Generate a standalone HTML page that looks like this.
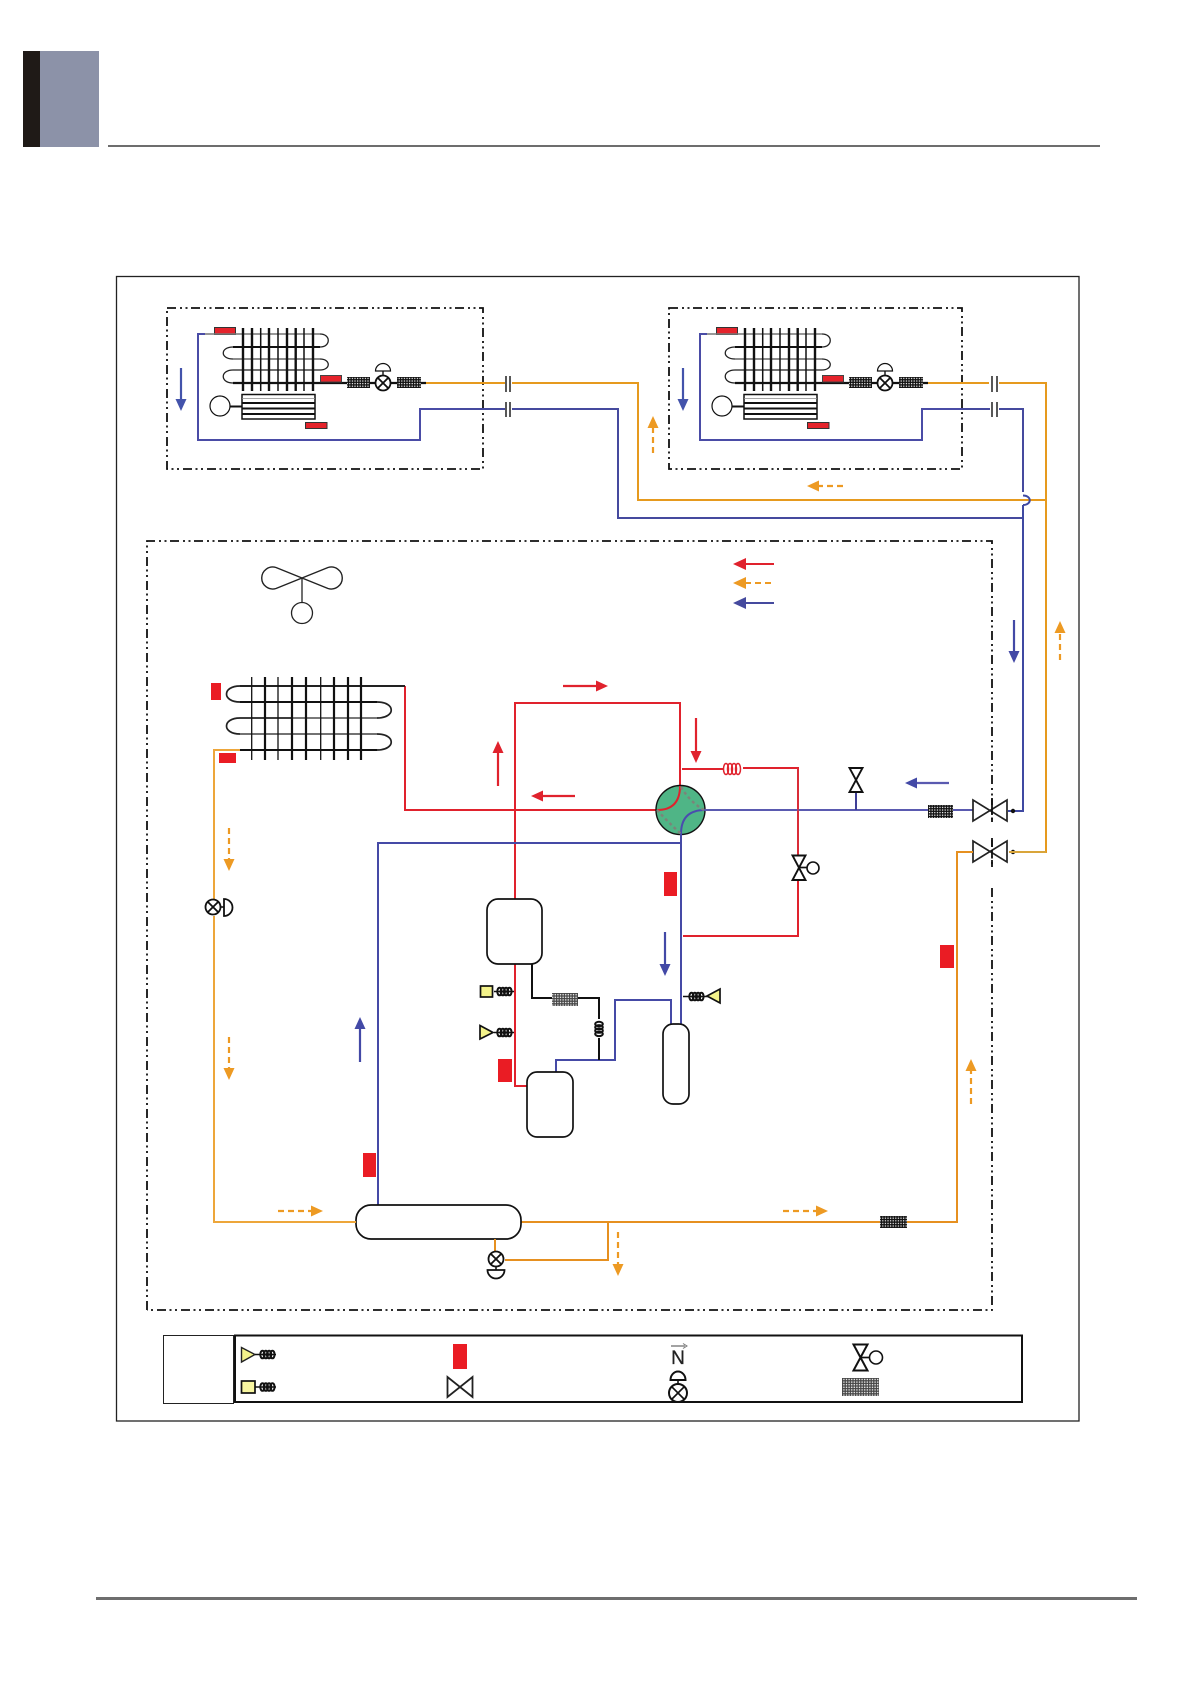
<!DOCTYPE html>
<html><head><meta charset="utf-8"><title>Diagram</title>
<style>html,body{margin:0;padding:0;background:#fff}svg{display:block}</style></head>
<body>
<svg xmlns="http://www.w3.org/2000/svg" width="1190" height="1684" viewBox="0 0 1190 1684">
<defs>
<pattern id="fp" width="2.6" height="2.6" patternUnits="userSpaceOnUse"><rect width="2.6" height="2.6" fill="#111"/><rect x=".8" y=".8" width="1.2" height="1.2" fill="#fff"/></pattern>
<pattern id="fg" width="2.6" height="2.6" patternUnits="userSpaceOnUse"><rect width="2.6" height="2.6" fill="#444"/><rect x=".8" y=".8" width="1.4" height="1.4" fill="#e4e4e4"/></pattern>
<g id="coil" fill="none" stroke="#111" stroke-width="2"><ellipse cx="2.5" cy="0" rx="2.2" ry="3.8"/><ellipse cx="5.800" cy="0" rx="2.2" ry="3.8"/><ellipse cx="9.100" cy="0" rx="2.2" ry="3.8"/><ellipse cx="12.400" cy="0" rx="2.2" ry="3.8"/></g>
<g id="cvalve" fill="none" stroke="#111" stroke-width="1.800"><circle cx="0" cy="0" r="7.500" fill="#fff"/><path d="M-5.300-5.300 5.300 5.300M5.300-5.300-5.300 5.300"/></g>
<g id="unit">
  <path d="M205 334H198V440H420V409H460" fill="none" stroke="#4a4ca6" stroke-width="2"/>
  <path d="M181 368V400" stroke="#4353ab" stroke-width="2.200"/><path d="M175.500 399H186.500L181 411Z" fill="#4353ab"/>
  <rect x="214.500" y="327.500" width="21" height="7" fill="#e5232b" stroke="#333"/>
  <path d="M205 334H320" stroke="#777" stroke-width="1.500" fill="none"/>
  <path d="M233 347H320" stroke="#111" stroke-width="2" fill="none"/>
  <path d="M233 359H320" stroke="#666" stroke-width="1.500" fill="none"/>
  <path d="M233 370H320" stroke="#444" stroke-width="1.500" fill="none"/>
  <path d="M320 334C331 334 331 347 320 347M233 347C220 347 220 359 233 359M320 359C331 359 331 370 320 370M233 370C220 370 220 383 233 383" fill="none" stroke="#222" stroke-width="1.300"/>
  <path d="M233 383H426" stroke="#111" stroke-width="2.200"/>
  <g stroke="#111"><path d="M243 328V391M252 328V391M269 328V391M287 328V391M295.700 328V391M313 328V391" stroke-width="2.400"/><path d="M260.700 328V391M278 328V391M304 328V391" stroke-width="1.500"/></g>
  <rect x="320.500" y="375.500" width="21" height="6.500" fill="#e5232b" stroke="#444"/>
  <rect x="347" y="377" width="23" height="11" fill="url(#fp)"/>
  <rect x="397" y="377" width="24" height="11" fill="url(#fp)"/>
  <use href="#cvalve" x="383" y="383"/>
  <path d="M383 371V375.500" stroke="#111" stroke-width="1.400"/>
  <path d="M375.500 371A7.500 7.500 0 0 1 390.500 371Z" fill="#fff" stroke="#111" stroke-width="1.200"/>
  <circle cx="220" cy="406" r="10" fill="#fff" stroke="#111" stroke-width="1.200"/>
  <path d="M230 406.500H242" stroke="#111" stroke-width="2"/>
  <rect x="242" y="394.500" width="73" height="24.500" fill="#fff" stroke="#111" stroke-width="1.500"/>
  <path d="M242 403H315M242 408.500H315M242 414H315" stroke="#111" stroke-width="2"/>
  <path d="M242 398.500H315" stroke="#888" stroke-width=".8"/>
  <rect x="305.500" y="422.500" width="21.500" height="6" fill="#e5232b" stroke="#333"/>
</g>
<g id="bow"><path d="M-17-10.500V10.500L17-10.500V10.500Z" fill="#fff" stroke="#222" stroke-width="1.700"/></g>
</defs>
<rect width="1190" height="1684" fill="#fff"/>

<rect x="23" y="51" width="17" height="96" fill="#1f1a17"/>
<rect x="40" y="51" width="59" height="96" fill="#8c92a8"/>
<rect x="108" y="145" width="992" height="2" fill="#6d6d6d"/>
<rect x="96" y="1597" width="1041" height="3" fill="#6e6e6e"/>
<rect x="116.500" y="276.500" width="962.500" height="1144.500" fill="none" stroke="#222" stroke-width="1.300"/>

<!-- dash-dot boxes -->
<g fill="none" stroke="#111" stroke-width="1.800" stroke-dasharray="9 4 2 3.500 2 3.500">
<rect x="167" y="308" width="316" height="161"/>
<rect x="669" y="308" width="293" height="161"/>
<path d="M147 1310V541H992V820"/>
<path d="M992 888V1310H147"/>
<path d="M992 838V867"/>
</g>

<use href="#unit"/>
<use href="#unit" x="502"/>

<!-- interconnect -->
<g fill="none" stroke-width="2">
<path d="M426 383H505M512 383H638V500H1046" stroke="#e69a1e"/>
<path d="M928 383H989M999 383H1046V852H1020" stroke="#e69a1e"/>
<path d="M460 409H505M512 409H618V518H1023" stroke="#454a9e"/>
<path d="M962 409H990M999 409H1023V492" stroke="#454a9e"/>
<path d="M1023 505V811H1008" stroke="#3f49a2"/>
<path d="M1023 495.500C1032 495.500 1032 505 1023 505" stroke="#3f49a2"/>
</g>
<g stroke="#111" stroke-width="1.400">
<path d="M506 376V392M510 376V392M506 402V417M510 402V417"/>
<path d="M992 376V392M997 376V392M992 402V417M997 402V417"/>
</g>

<!-- main red -->
<g fill="none" stroke="#e0222d" stroke-width="2">
<path d="M405 686V810H656"/>
<path d="M515 899V703H680V786"/>
<path d="M682 769H723M743 768H798V855M798 880V936H683"/>
<path d="M515 964V1086H527"/>
</g>
<path d="M377 686H405" stroke="#111" stroke-width="2"/>

<!-- condenser -->
<path d="M240 686H405" stroke="#222" stroke-width="2"/>
<path d="M240 702H377" stroke="#111" stroke-width="2"/>
<path d="M240 718H292" stroke="#222" stroke-width="1.800"/><path d="M292 718H377" stroke="#666" stroke-width="1.800"/>
<path d="M240 734H377" stroke="#444" stroke-width="1.600"/>
<path d="M240 750H377" stroke="#111" stroke-width="2"/>
<path d="M240 686C222 686 222 702 240 702M377 702C396 702 396 718 377 718M240 718C222 718 222 734 240 734M377 734C396 734 396 750 377 750" fill="none" stroke="#222" stroke-width="1.700"/>
<g stroke="#111">
<path d="M265 677V760M306 677V760M334 677V760M348 677V760M361 677V760M292 677V760" stroke-width="2.200"/>
<path d="M251.700 677V760M278 677V760M320.700 677V760" stroke-width="1.300"/>
</g>
<rect x="211" y="683" width="10" height="17" fill="#ea1c24"/>
<rect x="219" y="753" width="17" height="10" fill="#ea1c24"/>

<!-- fan -->
<path d="M302 578L276 567.500A11 11 0 1 0 276 588.500L302 578L328 567.500A11 11 0 1 1 328 588.500Z" fill="none" stroke="#222" stroke-width="1.400"/>
<path d="M302 578V603" stroke="#222" stroke-width="1.300"/>
<circle cx="302" cy="613" r="10.500" fill="#fff" stroke="#222" stroke-width="1.300"/>

<!-- legend arrows -->
<path d="M745 564H774" stroke="#e0222d" stroke-width="2"/><path d="M746 558V570L733 564Z" fill="#e0222d"/>
<path d="M745 583H774" stroke="#ed9a23" stroke-width="2" stroke-dasharray="6 4"/><path d="M746 577V589L733 583Z" fill="#ed9a23"/>
<path d="M745 603H774" stroke="#454a9e" stroke-width="2"/><path d="M746 597V609L733 603Z" fill="#454a9e"/>

<!-- 4-way valve -->
<circle cx="680.500" cy="810" r="24.500" fill="#4fb586" stroke="#111" stroke-width="1.400"/>
<path d="M680 786Q680 810 657 810" fill="none" stroke="#e0222d" stroke-width="2"/>
<path d="M681 834Q681 810 705 810" fill="none" stroke="#4a4cae" stroke-width="2"/>
<path d="M681 787Q690 802 704 810M657 810Q668 822 681 834" fill="none" stroke="#7c8479" stroke-width="2.400" stroke-dasharray="3 3"/>
<path d="M705 810H973" stroke="#5a5ab0" stroke-width="2"/>
<path d="M798 768V855" stroke="#d8303c" stroke-width="1.400"/>
<path d="M856 792V810" stroke="#3f3f97" stroke-width="2"/>
<path d="M849.500 768H862.500L849.500 792H862.500Z" fill="#fff" stroke="#111" stroke-width="1.900"/>

<!-- red coil -->
<g fill="none" stroke="#e0222d" stroke-width="1.500"><ellipse cx="726" cy="769" rx="2.500" ry="5.500"/><ellipse cx="730" cy="769" rx="2.500" ry="5.500"/><ellipse cx="734" cy="769" rx="2.500" ry="5.500"/><ellipse cx="738" cy="769" rx="2.500" ry="5.500"/></g>

<!-- red valve -->
<path d="M792.500 855.500H805.500L792.500 880H805.500Z" fill="#fff" stroke="#111" stroke-width="1.900"/>
<path d="M799 867.500H807" stroke="#111" stroke-width="1.700"/>
<circle cx="813" cy="868" r="6" fill="#fff" stroke="#111" stroke-width="1.600"/>

<!-- service valves -->
<use href="#bow" x="990" y="810.500"/>
<use href="#bow" x="990" y="851.500"/>
<path d="M992 798V822M992 840V864" stroke="#111" stroke-width="1.800" stroke-dasharray="7 3"/>
<circle cx="1013" cy="811" r="2.200" fill="#111"/><circle cx="1013" cy="852" r="2.200" fill="#111"/>
<path d="M1009 852H1046" stroke="#d9a53a" stroke-width="2"/>
<path d="M973 852H957V1222H521" fill="none" stroke="#e69020" stroke-width="2"/>
<rect x="928" y="805" width="25" height="13" fill="url(#fp)"/>
<rect x="880" y="1216" width="27" height="12" fill="url(#fp)"/>

<!-- blue main -->
<g fill="none" stroke="#454aa6" stroke-width="2">
<path d="M681 834V1024"/>
<path d="M681 843H378V1205"/>
<path d="M556 1072V1060H615V1000H671V1024"/>
</g>

<!-- receiver etc -->
<rect x="487" y="899" width="55" height="65" rx="11" fill="#fff" stroke="#111" stroke-width="1.700"/>
<rect x="527" y="1072" width="46" height="65" rx="10" fill="#fff" stroke="#111" stroke-width="1.700"/>
<rect x="663" y="1024" width="26" height="80" rx="10" fill="#fff" stroke="#111" stroke-width="1.700"/>
<rect x="356" y="1205" width="165" height="34" rx="15" fill="#fff" stroke="#111" stroke-width="1.700"/>
<path d="M532 964V998H599V1060" fill="none" stroke="#111" stroke-width="2"/>
<rect x="552" y="993" width="26" height="13" fill="url(#fg)"/>
<rect x="592" y="1019" width="14" height="19" fill="#fff"/>
<g transform="translate(599 1021.500) rotate(90)"><use href="#coil"/></g>

<!-- sensors -->
<path d="M494 991.500H514M494 1032.500H514M683 996.500H708" stroke="#111" stroke-width="1.500"/>
<rect x="480.500" y="986" width="12" height="11" fill="#f3f28a" stroke="#111" stroke-width="1.700"/>
<path d="M480 1025.500L493 1032.500L480 1039Z" fill="#f3f28a" stroke="#111" stroke-width="1.700"/>
<use href="#coil" x="497" y="991.500"/><use href="#coil" x="497" y="1032.500"/><use href="#coil" x="689" y="996.500"/>
<path d="M707 996L720 989V1003Z" fill="#f3f28a" stroke="#111" stroke-width="1.700"/>

<!-- red tags -->
<rect x="664" y="872" width="13" height="24" fill="#ea1c24"/>
<rect x="940" y="945" width="14" height="23" fill="#ea1c24"/>
<rect x="498" y="1059" width="14" height="23" fill="#ea1c24"/>
<rect x="363" y="1153" width="13" height="24" fill="#ea1c24"/>

<!-- orange pipes -->
<path d="M240 750H214V899M214 916V1222H356" fill="none" stroke="#eda63a" stroke-width="2"/>
<path d="M608 1222V1260H505M495 1239V1251" fill="none" stroke="#e69020" stroke-width="2"/>
<use href="#cvalve" x="213" y="907"/>
<path d="M220.500 907H225" stroke="#111" stroke-width="1.600"/>
<path d="M224 899A8.500 8.500 0 0 1 224 916Z" fill="#fff" stroke="#111" stroke-width="1.800"/>
<use href="#cvalve" x="496" y="1259"/>
<path d="M496 1266.500V1270" stroke="#111" stroke-width="1.600"/>
<path d="M487.500 1270H504.500A8.500 8.500 0 0 1 487.500 1270Z" fill="#fff" stroke="#111" stroke-width="1.800"/>

<!-- flow arrows -->
<g fill="#ed9a23">
<path d="M653 453V427M653 453" stroke="#ed9a23" stroke-width="2.200" stroke-dasharray="6 4"/><path d="M647.500 428H658.500L653 416Z"/>
<path d="M843 486H818" stroke="#ed9a23" stroke-width="2.200" stroke-dasharray="6 4"/><path d="M819 480.500V491.500L807 486Z"/>
<path d="M229 828V860" stroke="#ed9a23" stroke-width="2.200" stroke-dasharray="6 4"/><path d="M223.500 859H234.500L229 871Z"/>
<path d="M229 1037V1069" stroke="#ed9a23" stroke-width="2.200" stroke-dasharray="6 4"/><path d="M223.500 1068H234.500L229 1080Z"/>
<path d="M278 1211H312" stroke="#ed9a23" stroke-width="2.200" stroke-dasharray="6 4"/><path d="M311 1205.500V1216.500L323 1211Z"/>
<path d="M783 1211H817" stroke="#ed9a23" stroke-width="2.200" stroke-dasharray="6 4"/><path d="M816 1205.500V1216.500L828 1211Z"/>
<path d="M971 1104V1070" stroke="#ed9a23" stroke-width="2.200" stroke-dasharray="6 4"/><path d="M965.500 1071H976.500L971 1059Z"/>
<path d="M1060 660V632" stroke="#ed9a23" stroke-width="2.200" stroke-dasharray="6 4"/><path d="M1054.500 633H1065.500L1060 621Z"/>
<path d="M618 1232V1265" stroke="#ed9a23" stroke-width="2.200" stroke-dasharray="6 4"/><path d="M612.500 1264H623.500L618 1276Z"/>
</g>
<g fill="#e0222d">
<path d="M563 686H597" stroke="#e0222d" stroke-width="2.200"/><path d="M596 680.500V691.500L608 686Z"/>
<path d="M498 786V752" stroke="#e0222d" stroke-width="2.200"/><path d="M492.500 753H503.500L498 741Z"/>
<path d="M575 796H541" stroke="#e0222d" stroke-width="2.200"/><path d="M543 790.500V801.500L531 796Z"/>
<path d="M696 718V752" stroke="#e0222d" stroke-width="2.200"/><path d="M690.500 751H701.500L696 763Z"/>
</g>
<g fill="#4349a6">
<path d="M949 783H916" stroke="#5a5ab0" stroke-width="2.200"/><path d="M917 777.500V788.500L905 783Z"/>
<path d="M665 932V965" stroke="#4349a6" stroke-width="2.200"/><path d="M659.500 964H670.500L665 976Z"/>
<path d="M360 1062V1028" stroke="#4349a6" stroke-width="2.200"/><path d="M354.500 1029H365.500L360 1017Z"/>
<path d="M1014 620V652" stroke="#4349a6" stroke-width="2.200"/><path d="M1008.500 651H1019.500L1014 663Z"/>
</g>

<!-- legend -->
<rect x="163.500" y="1335.500" width="70" height="68" fill="#fff" stroke="#222" stroke-width="1"/>
<rect x="235" y="1335.500" width="787" height="66.500" fill="#fff" stroke="#111" stroke-width="2"/>
<path d="M241.500 1347.500L255 1354.500L241.500 1362Z" fill="#f3f28a" stroke="#222" stroke-width="1.400"/>
<path d="M255 1354.500H276" stroke="#111" stroke-width="1.400"/><use href="#coil" x="260" y="1354.500"/>
<rect x="241.500" y="1381" width="13.500" height="12" fill="#f8f6a0" stroke="#111" stroke-width="1.700"/>
<path d="M255 1387H276" stroke="#111" stroke-width="1.400"/><use href="#coil" x="260" y="1387"/>
<rect x="453" y="1344" width="14" height="25" fill="#ea1c24"/>
<path d="M447.500 1377V1397L472.500 1377V1397Z" fill="#fff" stroke="#222" stroke-width="1.800"/>
<path d="M671 1346H685" stroke="#999" stroke-width="1.800"/><path d="M683 1343.500L687 1346L683 1348.500" fill="none" stroke="#777" stroke-width="1"/>
<text x="678" y="1364" text-anchor="middle" font-family="Liberation Sans, sans-serif" font-size="19" fill="#222" stroke="#222" stroke-width=".3">N</text>
<path d="M670.500 1380H685.500A7.500 8.500 0 0 0 670.500 1380Z" fill="#fff" stroke="#111" stroke-width="2"/>
<path d="M678 1380V1385" stroke="#111" stroke-width="1.600"/>
<circle cx="678" cy="1393" r="9" fill="#fff" stroke="#111" stroke-width="2"/>
<path d="M671.700 1386.700 684.300 1399.300M684.300 1386.700 671.700 1399.300" stroke="#111" stroke-width="1.700"/>
<path d="M853.500 1344.500H867.500L853.500 1370.500H867.500Z" fill="#fff" stroke="#111" stroke-width="2"/>
<path d="M861 1357.500H870" stroke="#111" stroke-width="1.700"/>
<circle cx="876" cy="1357.500" r="6.500" fill="#fff" stroke="#111" stroke-width="1.600"/>
<rect x="842" y="1378" width="37" height="18" fill="url(#fg)"/>
</svg>
</body></html>
